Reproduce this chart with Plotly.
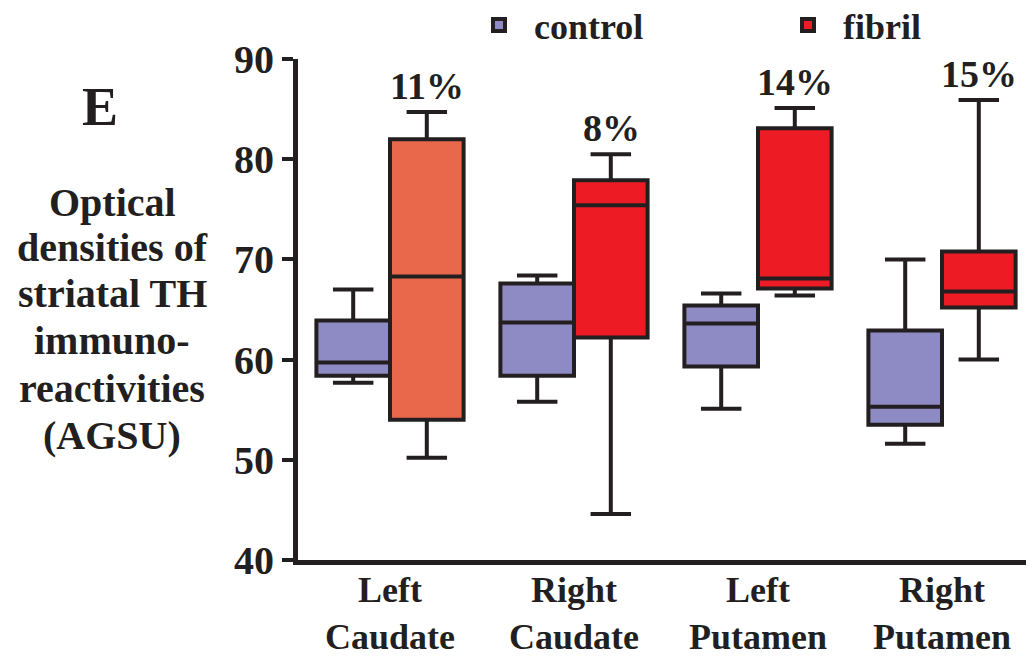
import plotly.graph_objects as go

categories = ["Left Caudate", "Right Caudate", "Left Putamen", "Right Putamen"]
tick_text = ["Left<br>Caudate", "Right<br>Caudate", "Left<br>Putamen", "Right<br>Putamen"]

control_lower = [57.7, 55.8, 55.1, 51.6]
control_q1 = [58.4, 58.4, 59.3, 53.5]
control_median = [59.7, 63.7, 63.6, 55.3]
control_q3 = [63.9, 67.6, 65.4, 62.9]
control_upper = [67.0, 68.4, 66.6, 70.0]

fibril_lower = [50.2, 44.6, 66.4, 60.0]
fibril_q1 = [54.0, 62.2, 67.1, 65.2]
fibril_median = [68.3, 75.4, 68.1, 66.8]
fibril_q3 = [82.0, 77.9, 83.1, 70.8]
fibril_upper = [84.7, 80.5, 85.1, 85.9]
fibril_colors = ["#E9684C", "#ED1C24", "#ED1C24", "#ED1C24"]

percent_labels = ["11%", "8%", "14%", "15%"]

y_title_lines = ["Optical", "densities of", "striatal TH", "immuno-", "reactivities", "(AGSU)"]

FONT = "Liberation Serif"
INK = "#231F20"
CONTROL_COLOR = "#8E8AC3"

# page offset of the plotly div inside the browser body (default 8px margin)
OX, OY = 8, 8
W, H = 1034 - OX, 658 - OY
L, R, T, B = 298 - OX, 0, 59 - OY, 98
pw, ph = W - L - R, H - T - B


def px_to_paper(px, py):
    return (px - OX - L) / pw, (H - (py - OY) - B) / ph


fig = go.Figure()
fig.add_trace(go.Box(
    name="control", x=categories,
    lowerfence=control_lower, q1=control_q1, median=control_median,
    q3=control_q3, upperfence=control_upper,
    fillcolor=CONTROL_COLOR, line=dict(color=INK, width=4),
    whiskerwidth=0.55, boxpoints=False, offsetgroup="control",
    legendgroup="control", hoverinfo="skip",
))
for i, cat in enumerate(categories):
    fig.add_trace(go.Box(
        name="fibril", x=[cat],
        lowerfence=[fibril_lower[i]], q1=[fibril_q1[i]], median=[fibril_median[i]],
        q3=[fibril_q3[i]], upperfence=[fibril_upper[i]],
        fillcolor=fibril_colors[i], line=dict(color=INK, width=4),
        whiskerwidth=0.55, boxpoints=False, offsetgroup="fibril",
        legendgroup="fibril", showlegend=(i == 1), hoverinfo="skip",
    ))

annotations = []
for i, cat in enumerate(categories):
    annotations.append(dict(
        x=cat, y=fibril_upper[i], xref="x", yref="y", text=percent_labels[i],
        showarrow=False, xshift=37, yshift=26, yanchor="middle",
        font=dict(family=FONT, size=38, color=INK, weight="bold"),
    ))

title_y = [202, 247, 293, 340, 388, 435]
for line, py in zip(y_title_lines, title_y):
    x, y = px_to_paper(112, py)
    annotations.append(dict(
        x=x, y=y, xref="paper", yref="paper", text=line,
        showarrow=False, xanchor="center", yanchor="middle",
        font=dict(family=FONT, size=40, color=INK, weight="bold"),
    ))
ex, ey = px_to_paper(100, 107)
annotations.append(dict(
    x=ex, y=ey, xref="paper", yref="paper", text="E",
    showarrow=False, xanchor="center", yanchor="middle",
    font=dict(family=FONT, size=54, color=INK, weight="bold"),
))

lx, ly = px_to_paper(464, 25)

fig.update_layout(
    width=W, height=H,
    margin=dict(l=L, r=R, t=T, b=B, autoexpand=False),
    paper_bgcolor="white", plot_bgcolor="white",
    boxmode="group", boxgap=0.2, boxgroupgap=0.0,
    font=dict(family=FONT, color=INK),
    showlegend=True,
    legend=dict(
        orientation="h", x=lx, xanchor="left",
        y=ly, yanchor="middle",
        font=dict(family=FONT, size=36, color=INK, weight="bold"),
        itemwidth=60, entrywidth=234, bgcolor="rgba(0,0,0,0)",
    ),
    annotations=annotations,
    xaxis=dict(
        type="category", categoryorder="array", categoryarray=categories,
        tickvals=categories, ticktext=tick_text,
        range=[-0.5, 3.5], showline=True, linecolor=INK, linewidth=5,
        ticks="", showgrid=False, zeroline=False, ticklabelstandoff=-6,
        tickfont=dict(family=FONT, size=36, color=INK, weight="bold"),
    ),
    yaxis=dict(
        range=[40, 90], tickvals=[40, 50, 60, 70, 80, 90],
        showline=True, linecolor=INK, linewidth=5,
        ticks="outside", ticklen=11, tickwidth=4, tickcolor=INK,
        showgrid=False, zeroline=False,
        tickfont=dict(family=FONT, size=40, color=INK, weight="bold"),
    ),
)

fig.write_html("out.html")
